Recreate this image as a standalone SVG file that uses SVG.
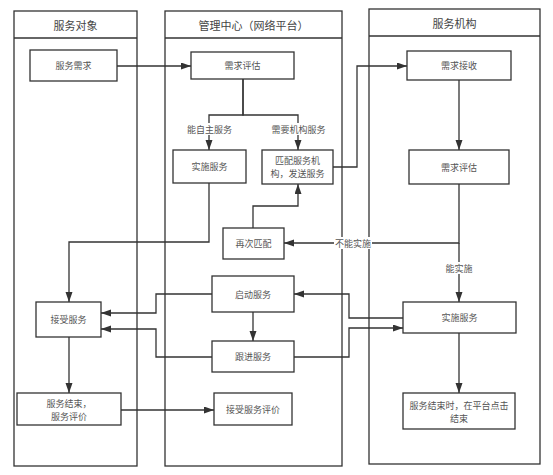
<svg xmlns="http://www.w3.org/2000/svg" width="553" height="475" viewBox="0 0 553 475">
<style>
.lane{fill:none;stroke:#333;stroke-width:1.3}
.box{fill:#fff;stroke:#333;stroke-width:1.3}
.edge{fill:none;stroke:#333;stroke-width:1.3}
.arr{marker-end:url(#ah)}
text{font-family:"Noto Sans CJK SC","Noto Sans",sans-serif;fill:#555;text-anchor:middle;dominant-baseline:central}
.h{font-size:11px;fill:#444}
.t{font-size:9px}
.lbl{fill:#fff;stroke:none}
</style>
<defs>
<marker id="ah" markerUnits="userSpaceOnUse" markerWidth="10" markerHeight="8" refX="10" refY="3.5" orient="auto">
<path d="M0,0 L10,3.5 L0,7 z" fill="#333"/>
</marker>
</defs>
<rect width="553" height="475" fill="#fff"/>
<g id="lanes">
<g id="lane-client"><rect class="lane" x="14" y="11" width="123" height="455"/><line class="lane" x1="14" y1="38" x2="137" y2="38"/><text class="h" x="75.5" y="25">服务对象</text></g>
<g id="lane-center"><rect class="lane" x="165" y="11" width="177" height="455"/><line class="lane" x1="165" y1="38" x2="342" y2="38"/><text class="h" x="253.5" y="25">管理中心（网络平台）</text></g>
<g id="lane-org"><rect class="lane" x="369" y="9" width="171" height="455"/><line class="lane" x1="369" y1="36" x2="540" y2="36"/><text class="h" x="454.5" y="23">服务机构</text></g>
</g>
<g id="connectors">
<path class="edge arr" d="M117,66 H191"/>
<path class="edge arr" d="M243,79 V115 H209 V150"/>
<path class="edge arr" d="M243,79 V115 H298 V150"/>
<path class="edge arr" d="M333,167 H357 V66 H407"/>
<path class="edge arr" d="M459,80 V150"/>
<path class="edge arr" d="M459,184 V243 H284"/>
<path class="edge arr" d="M459,243 V302"/>
<path class="edge arr" d="M253,228 V206 H298 V184"/>
<path class="edge arr" d="M209,183 V242 H69 V302"/>
<path class="edge arr" d="M403,318 H349 V294 H294"/>
<path class="edge arr" d="M212,294 H156 V313 H101"/>
<path class="edge arr" d="M212,357 H156 V329 H101"/>
<path class="edge arr" d="M294,357 H349 V328 H403"/>
<path class="edge arr" d="M253,312 V341"/>
<path class="edge arr" d="M69,337 V393"/>
<path class="edge arr" d="M459,333 V393"/>
<path class="edge arr" d="M121,410 H214"/>
<rect class="lbl" x="187" y="123" width="45" height="12"/><text class="t" x="209.5" y="129">能自主服务</text>
<rect class="lbl" x="271" y="123" width="55" height="12"/><text class="t" x="298.5" y="129">需要机构服务</text>
<rect class="lbl" x="334" y="237" width="38" height="12"/><text class="t" x="353" y="243">不能实施</text>
<rect class="lbl" x="445" y="262" width="28" height="12"/><text class="t" x="459" y="268">能实施</text>
</g>
<g id="n-demand"><rect class="box" x="30" y="50" width="87" height="31"/><text class="t" x="73.5" y="65.5">服务需求</text></g>
<g id="n-assess-c"><rect class="box" x="191" y="52" width="103" height="27"/><text class="t" x="242.5" y="65.5">需求评估</text></g>
<g id="n-impl-c"><rect class="box" x="173" y="150" width="73" height="33"/><text class="t" x="209.5" y="166.5">实施服务</text></g>
<g id="n-match"><rect class="box" x="262" y="150" width="71" height="34"/><text class="t" x="297.5" y="160.5">匹配服务机</text><text class="t" x="297.5" y="173.5">构，发送服务</text></g>
<g id="n-rematch"><rect class="box" x="223" y="228" width="61" height="31"/><text class="t" x="253.5" y="243.5">再次匹配</text></g>
<g id="n-start"><rect class="box" x="212" y="276" width="82" height="36"/><text class="t" x="253" y="294">启动服务</text></g>
<g id="n-follow"><rect class="box" x="212" y="341" width="82" height="31"/><text class="t" x="253" y="356.5">跟进服务</text></g>
<g id="n-evalrecv"><rect class="box" x="214" y="393" width="78" height="32"/><text class="t" x="253" y="409">接受服务评价</text></g>
<g id="n-accept"><rect class="box" x="36" y="302" width="65" height="35"/><text class="t" x="68.5" y="319.5">接受服务</text></g>
<g id="n-end"><rect class="box" x="17" y="393" width="104" height="32"/><text class="t" x="69" y="403">服务结束，</text><text class="t" x="69" y="416">服务评价</text></g>
<g id="n-receive"><rect class="box" x="407" y="51" width="104" height="29"/><text class="t" x="459" y="65.5">需求接收</text></g>
<g id="n-assess-o"><rect class="box" x="409" y="150" width="100" height="34"/><text class="t" x="459" y="167">需求评估</text></g>
<g id="n-impl-o"><rect class="box" x="403" y="302" width="113" height="31"/><text class="t" x="459.5" y="317.5">实施服务</text></g>
<g id="n-finish"><rect class="box" x="403" y="393" width="112" height="36"/><text class="t" x="459" y="405">服务结束时，在平台点击</text><text class="t" x="459" y="418">结束</text></g>
</svg>
